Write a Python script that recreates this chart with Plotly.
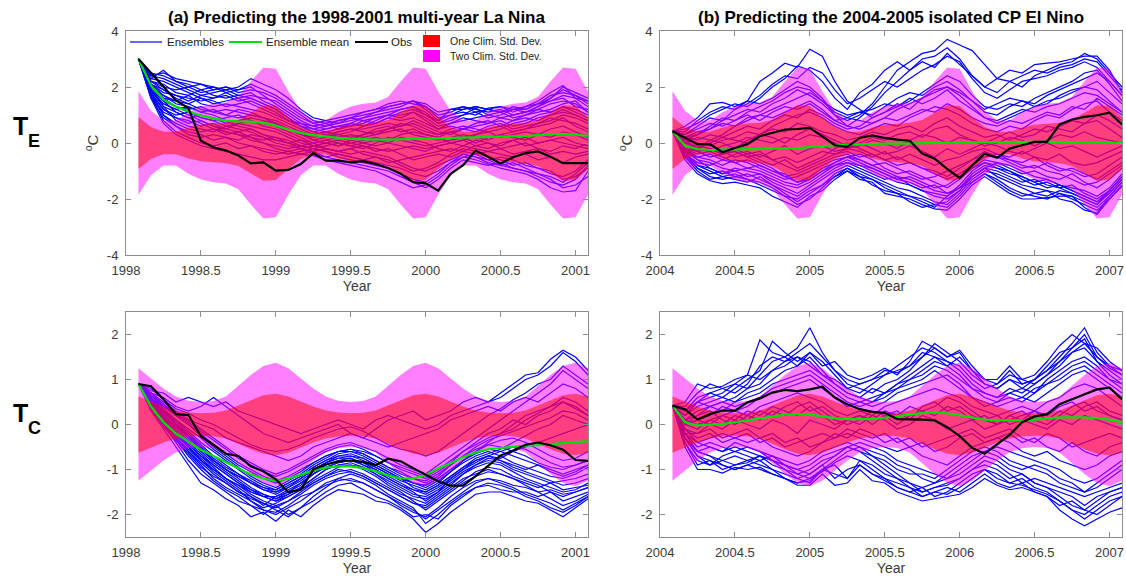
import plotly.graph_objects as go

W, H = 1126, 580
N = 37  # monthly steps, starting in February of the first year
FONT = "Liberation Sans, Arial, sans-serif"
AX_GRAY = "#8c8c8c"
TXT_GRAY = "#3a3a3a"

# climatological two-standard-deviation envelopes by calendar month (Jan..Dec)
SD2_TE = [2.65, 1.85, 1.15, 0.80, 0.80, 1.10, 1.30, 1.40, 1.45, 1.65, 2.20, 2.70]
SD2_TC = [1.37, 1.25, 1.02, 0.80, 0.62, 0.53, 0.50, 0.52, 0.62, 0.85, 1.10, 1.30]

# ---------------- (a) 1998-2001, T_E ----------------
OBS_TE_A = [3.0, 2.5, 2.0, 1.52, 1.25, 0.08, -0.15, -0.27, -0.45, -0.73,
            -0.69, -0.99, -0.96, -0.75, -0.36, -0.63, -0.63, -0.69, -0.65, -0.75,
            -0.89, -1.1, -1.4, -1.44, -1.7, -1.1, -0.79, -0.27, -0.49, -0.73,
            -0.51, -0.36, -0.3, -0.49, -0.72, -0.72, -0.72]
MEAN_TE_A = [3.0, 2.05, 1.55, 1.3, 1.12, 0.98, 0.88, 0.8, 0.77, 0.76,
             0.72, 0.62, 0.48, 0.36, 0.28, 0.22, 0.18, 0.15, 0.13, 0.12,
             0.12, 0.13, 0.15, 0.17, 0.18, 0.18, 0.18, 0.19, 0.2, 0.21,
             0.23, 0.25, 0.28, 0.31, 0.33, 0.3, 0.25]
ENS_TE_A = [
    [3.0, 2.4, 2.5, 2.3, 2.2, 2.1, 2.0, 1.9, 2.0, 2.3, 2.1, 1.9, 1.6, 1.2, 0.9, 0.8, 0.9, 1.0, 1.1, 1.2, 1.4, 1.5, 1.4, 1.3, 1.0, 1.1, 1.3, 1.2, 1.1, 1.2, 1.0, 1.1, 1.3, 1.6, 2.0, 1.8, 1.6],
    [3.0, 2.3, 2.6, 2.2, 2.0, 2.1, 1.9, 2.0, 1.8, 1.9, 1.8, 1.6, 1.3, 1.0, 0.7, 0.6, 0.7, 0.9, 1.0, 1.1, 1.2, 1.3, 1.5, 1.2, 0.8, 1.2, 1.2, 1.3, 1.2, 1.1, 1.2, 1.3, 1.4, 1.7, 1.8, 1.7, 1.4],
    [3.0, 2.2, 2.0, 1.9, 2.0, 1.8, 1.9, 2.0, 1.9, 2.0, 1.7, 1.4, 1.1, 0.8, 0.6, 0.5, 0.6, 0.7, 0.9, 1.0, 1.1, 1.2, 1.3, 1.1, 0.7, 0.8, 1.0, 1.25, 1.0, 0.9, 1.0, 1.1, 1.3, 1.5, 1.6, 1.3, 1.2],
    [3.0, 2.1, 1.8, 1.7, 1.6, 1.5, 1.6, 1.7, 1.5, 1.6, 1.4, 1.2, 0.9, 0.6, 0.4, 0.5, 0.6, 0.6, 0.8, 0.9, 1.0, 1.0, 1.1, 0.9, 0.6, 0.7, 0.8, 0.9, 1.0, 1.1, 0.9, 1.0, 1.1, 1.2, 1.4, 1.5, 1.1],
    [3.0, 2.0, 1.6, 1.5, 1.7, 1.4, 1.3, 1.4, 1.3, 1.2, 1.1, 0.9, 0.7, 0.5, 0.3, 0.4, 0.3, 0.4, 0.6, 0.7, 0.9, 0.8, 0.9, 0.7, 0.5, 0.6, 0.5, 0.7, 0.8, 0.6, 0.8, 0.9, 0.8, 1.0, 1.1, 1.0, 0.8],
    [3.0, 1.9, 1.5, 1.3, 1.2, 1.3, 1.1, 1.0, 1.2, 1.1, 0.9, 0.7, 0.5, 0.3, 0.2, 0.3, 0.2, 0.1, 0.3, 0.4, 0.5, 0.6, 0.8, 0.6, 0.4, 0.3, 0.5, 0.4, 0.6, 0.7, 0.5, 0.6, 0.7, 0.9, 0.8, 0.7, 0.5],
    [3.0, 1.8, 1.2, 1.0, 1.1, 0.9, 0.8, 0.9, 1.0, 0.8, 0.7, 0.6, 0.4, 0.2, 0.0, 0.1, 0.2, 0.3, 0.2, 0.3, 0.4, 0.5, 0.3, 0.2, 0.1, 0.2, 0.3, 0.2, 0.1, 0.3, 0.4, 0.5, 0.6, 0.7, 0.9, 0.6, 0.4],
    [3.0, 1.7, 1.1, 0.9, 0.7, 0.8, 0.6, 0.5, 0.7, 0.6, 0.5, 0.4, 0.2, 0.0, -0.1, 0.0, -0.1, 0.0, 0.1, 0.2, 0.1, 0.3, 0.4, 0.3, 0.2, 0.0, 0.1, 0.3, 0.4, 0.2, 0.3, 0.4, 0.3, 0.5, 0.6, 0.4, 0.2],
    [3.0, 1.8, 1.0, 0.7, 0.5, 0.4, 0.5, 0.3, 0.4, 0.5, 0.3, 0.2, 0.1, -0.1, -0.2, -0.1, 0.0, -0.1, -0.2, 0.0, 0.2, 0.1, 0.0, -0.1, 0.0, 0.1, 0.2, 0.0, 0.2, 0.3, 0.2, 0.1, 0.3, 0.2, 0.4, 0.3, 0.1],
    [3.0, 1.6, 0.9, 0.6, 0.3, 0.2, 0.3, 0.2, 0.1, 0.3, 0.2, 0.0, -0.1, -0.2, -0.3, -0.2, -0.3, -0.2, -0.1, -0.2, -0.3, -0.2, -0.1, -0.2, -0.1, 0.0, -0.1, 0.1, 0.0, -0.1, 0.1, 0.2, 0.0, 0.1, 0.2, 0.0, -0.1],
    [3.0, 1.7, 0.8, 0.4, 0.2, 0.0, -0.1, 0.0, -0.2, -0.1, -0.3, -0.4, -0.3, -0.2, -0.4, -0.5, -0.4, -0.5, -0.6, -0.5, -0.7, -0.6, -0.5, -0.4, -0.3, -0.2, -0.3, -0.4, -0.3, -0.2, -0.4, -0.3, -0.2, -0.4, -0.3, -0.4, -0.3],
    [3.0, 1.6, 0.7, 0.3, 0.1, -0.1, -0.2, -0.3, -0.4, -0.5, -0.6, -0.6, -0.5, -0.4, -0.45, -0.6, -0.7, -0.8, -0.9, -1.0, -1.2, -1.4, -1.6, -1.5, -1.2, -0.8, -0.5, -0.6, -0.75, -0.9, -1.0, -1.1, -1.3, -1.6, -1.75, -1.7, -1.0],
    [3.0, 1.9, 1.4, 1.2, 1.0, 0.8, 0.6, 0.4, 0.3, 0.1, 0.0, -0.2, -0.3, -0.4, -0.3, -0.5, -0.6, -0.7, -0.8, -0.9, -1.0, -1.2, -1.4, -1.6, -1.3, -0.9, -0.6, -0.7, -0.8, -0.7, -0.9, -1.0, -1.2, -1.4, -1.5, -1.3, -0.8],
    [3.0, 2.0, 1.7, 1.4, 1.3, 1.1, 1.0, 0.8, 0.6, 0.5, 0.3, 0.1, 0.0, -0.1, -0.2, -0.3, -0.4, -0.5, -0.6, -0.7, -0.8, -0.9, -1.1, -1.2, -1.0, -0.7, -0.5, -0.4, -0.6, -0.8, -0.7, -0.9, -1.1, -1.2, -1.4, -1.1, -0.7],
    [3.0, 2.2, 2.1, 1.8, 1.7, 1.9, 1.7, 1.6, 1.7, 1.8, 1.5, 1.3, 1.0, 0.7, 0.5, 0.6, 0.8, 0.9, 0.8, 0.7, 0.9, 1.1, 1.2, 1.0, 0.8, 1.0, 1.1, 1.0, 1.25, 1.3, 1.1, 1.3, 1.5, 1.8, 2.05, 1.6, 1.3],
    [3.0, 2.1, 1.9, 1.6, 1.4, 1.6, 1.5, 1.3, 1.4, 1.5, 1.3, 1.1, 0.8, 0.6, 0.4, 0.3, 0.4, 0.5, 0.5, 0.6, 0.7, 0.6, 0.7, 0.5, 0.3, 0.5, 0.6, 0.5, 0.4, 0.5, 0.7, 0.8, 1.0, 1.1, 1.3, 1.2, 1.0],
    [3.0, 2.0, 1.5, 1.1, 0.9, 1.0, 0.9, 0.7, 0.8, 0.9, 0.8, 0.7, 0.5, 0.4, 0.1, 0.0, -0.1, 0.1, 0.0, -0.1, 0.0, 0.2, 0.1, 0.0, -0.2, -0.3, -0.1, -0.2, -0.3, -0.4, -0.5, -0.4, -0.6, -0.5, -0.7, -0.5, -0.4],
    [3.0, 1.9, 1.3, 0.8, 0.6, 0.5, 0.4, 0.6, 0.5, 0.4, 0.2, 0.1, 0.0, 0.1, -0.1, -0.2, -0.3, -0.4, -0.3, -0.4, -0.5, -0.7, -0.9, -1.0, -0.8, -0.6, -0.4, -0.5, -0.6, -0.5, -0.6, -0.8, -0.9, -1.1, -1.2, -1.0, -0.6],
    [3.0, 2.4, 2.3, 2.1, 1.9, 1.7, 1.8, 1.9, 1.7, 1.6, 1.4, 1.2, 0.9, 0.6, 0.5, 0.4, 0.5, 0.7, 0.6, 0.8, 1.0, 1.2, 1.3, 1.0, 0.7, 0.9, 1.0, 1.1, 0.9, 1.0, 1.2, 1.1, 1.2, 1.4, 1.5, 1.4, 1.1],
    [3.0, 1.8, 1.2, 0.9, 0.8, 0.6, 0.7, 0.5, 0.4, 0.2, 0.1, 0.2, 0.0, -0.2, -0.1, 0.0, 0.1, 0.0, -0.1, -0.3, -0.2, -0.4, -0.6, -0.5, -0.4, -0.5, -0.3, -0.1, 0.0, -0.2, -0.1, 0.0, -0.2, -0.3, -0.1, -0.2, 0.0],
    [3.0, 2.1, 1.7, 1.5, 1.4, 1.2, 1.1, 1.2, 1.1, 1.0, 0.9, 0.8, 0.6, 0.4, 0.3, 0.2, 0.4, 0.5, 0.4, 0.3, 0.5, 0.7, 0.6, 0.4, 0.3, 0.4, 0.2, 0.3, 0.5, 0.6, 0.4, 0.5, 0.7, 0.8, 1.0, 0.9, 0.7],
    [3.0, 2.2, 1.9, 1.7, 1.5, 1.7, 1.6, 1.8, 1.6, 1.4, 1.2, 1.0, 0.8, 0.7, 0.6, 0.7, 0.5, 0.6, 0.7, 0.9, 1.0, 0.9, 1.1, 0.8, 0.5, 0.7, 0.9, 0.8, 0.7, 0.9, 0.8, 1.0, 1.2, 1.1, 1.3, 1.1, 0.9],
    [3.0, 2.3, 2.2, 2.0, 1.8, 1.6, 1.4, 1.5, 1.6, 1.7, 1.6, 1.5, 1.2, 0.9, 0.7, 0.8, 0.7, 0.8, 0.9, 1.1, 1.3, 1.4, 1.5, 1.3, 0.9, 1.0, 1.2, 1.3, 1.2, 1.3, 1.2, 1.2, 1.4, 1.5, 1.7, 1.6, 1.5],
    [3.0, 1.9, 1.3, 1.1, 0.9, 0.7, 0.5, 0.4, 0.3, 0.2, 0.0, -0.1, -0.2, -0.1, 0.0, -0.2, -0.3, -0.2, -0.4, -0.5, -0.6, -0.8, -1.0, -0.9, -0.7, -0.4, -0.2, -0.3, -0.5, -0.6, -0.8, -0.7, -0.9, -1.0, -1.3, -1.2, -0.9],
    [3.0, 2.0, 1.6, 1.3, 1.1, 0.9, 0.8, 0.6, 0.7, 0.8, 0.6, 0.5, 0.3, 0.1, 0.0, 0.1, 0.0, -0.1, 0.0, 0.1, 0.0, -0.1, -0.2, -0.3, -0.1, 0.0, 0.1, -0.1, -0.2, 0.0, 0.1, -0.1, 0.0, 0.1, 0.0, -0.1, -0.2],
    [3.0, 1.8, 1.4, 1.2, 1.3, 1.1, 1.2, 1.0, 0.9, 1.0, 0.9, 0.7, 0.5, 0.3, 0.1, 0.2, 0.3, 0.2, 0.3, 0.5, 0.6, 0.4, 0.5, 0.3, 0.2, 0.4, 0.5, 0.6, 0.7, 0.8, 0.6, 0.7, 0.9, 1.0, 1.2, 1.0, 0.8],
    [3.0, 2.5, 2.4, 2.2, 2.1, 1.9, 2.0, 1.8, 1.9, 2.1, 1.9, 1.7, 1.4, 1.1, 0.8, 0.7, 0.8, 0.9, 1.1, 1.2, 1.3, 1.4, 1.5, 1.4, 1.1, 1.2, 1.3, 1.1, 1.2, 1.1, 1.3, 1.2, 1.4, 1.6, 1.9, 1.7, 1.5],
    [3.0, 1.7, 1.0, 0.6, 0.4, 0.3, 0.1, 0.2, 0.0, -0.1, -0.2, -0.3, -0.4, -0.3, -0.2, -0.3, -0.5, -0.6, -0.7, -0.8, -0.9, -1.1, -1.3, -1.4, -1.1, -0.7, -0.4, -0.5, -0.7, -0.8, -0.9, -1.0, -1.1, -1.3, -1.6, -1.5, -1.2],
]

# ---------------- (a) 1998-2001, T_C ----------------
OBS_TC_A = [0.9, 0.85, 0.56, 0.23, 0.21, -0.26, -0.45, -0.65, -0.7, -0.93,
            -1.04, -1.22, -1.5, -1.45, -1.0, -0.89, -0.82, -0.8, -0.83, -0.9,
            -0.76, -0.82, -0.97, -1.11, -1.26, -1.36, -1.36, -1.15, -0.93, -0.69,
            -0.58, -0.45, -0.4, -0.46, -0.56, -0.79, -0.81]
MEAN_TC_A = [0.9, 0.4, 0.05, -0.2, -0.38, -0.56, -0.7, -0.84, -0.98, -1.11,
             -1.2, -1.26, -1.2, -1.12, -1.02, -0.96, -0.93, -0.93, -0.97, -1.04,
             -1.13, -1.2, -1.2, -1.12, -0.98, -0.86, -0.72, -0.62, -0.55, -0.52,
             -0.49, -0.47, -0.46, -0.44, -0.42, -0.4, -0.37]
ENS_TC_A = [
    [0.9, 0.3, -0.1, -0.5, -0.9, -1.3, -1.45, -1.65, -1.8, -2.05, -1.95, -2.15, -1.9, -2.05, -1.8, -1.6, -1.45, -1.5, -1.55, -1.7, -1.75, -1.9, -2.1, -2.4, -2.2, -1.95, -1.75, -1.55, -1.5, -1.5, -1.6, -1.7, -1.75, -1.9, -2.05, -1.85, -1.65],
    [0.9, 0.4, 0.0, -0.4, -0.8, -1.1, -1.3, -1.5, -1.7, -1.8, -2.0, -1.8, -2.0, -1.85, -1.7, -1.5, -1.35, -1.3, -1.45, -1.6, -1.7, -1.85, -2.05, -2.0, -2.1, -1.8, -1.6, -1.4, -1.35, -1.45, -1.5, -1.5, -1.6, -1.5, -1.7, -1.6, -1.5],
    [0.9, 0.5, 0.1, -0.3, -0.6, -0.9, -1.2, -1.4, -1.55, -1.7, -1.9, -1.95, -1.8, -1.6, -1.5, -1.3, -1.2, -1.25, -1.3, -1.45, -1.6, -1.75, -1.9, -2.1, -1.9, -1.7, -1.5, -1.3, -1.2, -1.25, -1.35, -1.4, -1.5, -1.45, -1.55, -1.5, -1.4],
    [0.9, 0.45, 0.05, -0.25, -0.5, -0.75, -1.0, -1.2, -1.35, -1.55, -1.7, -1.8, -1.7, -1.5, -1.3, -1.15, -1.0, -1.05, -1.15, -1.3, -1.45, -1.6, -1.75, -1.8, -1.6, -1.4, -1.2, -1.1, -1.0, -1.1, -1.2, -1.3, -1.4, -1.3, -1.45, -1.4, -1.35],
    [0.9, 0.5, 0.2, -0.1, -0.35, -0.6, -0.85, -1.05, -1.25, -1.45, -1.6, -1.7, -1.55, -1.4, -1.2, -1.0, -0.9, -0.85, -0.95, -1.1, -1.25, -1.4, -1.55, -1.6, -1.45, -1.25, -1.05, -0.9, -0.8, -0.85, -1.0, -1.1, -1.2, -1.3, -1.25, -1.2, -1.1],
    [0.9, 0.55, 0.25, 0.0, -0.2, -0.45, -0.7, -0.9, -1.1, -1.3, -1.45, -1.55, -1.4, -1.25, -1.05, -0.85, -0.7, -0.7, -0.8, -0.95, -1.1, -1.25, -1.35, -1.45, -1.3, -1.05, -0.85, -0.7, -0.6, -0.7, -0.85, -0.95, -1.05, -1.15, -1.2, -1.1, -0.95],
    [0.9, 0.6, 0.3, 0.1, -0.1, -0.3, -0.55, -0.75, -0.95, -1.15, -1.3, -1.4, -1.25, -1.1, -0.9, -0.75, -0.6, -0.55, -0.65, -0.8, -0.95, -1.05, -1.2, -1.3, -1.15, -0.9, -0.7, -0.55, -0.45, -0.5, -0.6, -0.7, -0.85, -0.95, -1.0, -0.9, -0.8],
    [0.9, 0.35, -0.05, -0.35, -0.65, -0.95, -1.15, -1.3, -1.5, -1.6, -1.75, -1.9, -2.05, -1.85, -1.6, -1.4, -1.2, -1.1, -1.2, -1.35, -1.55, -1.7, -1.85, -2.2, -2.0, -1.75, -1.55, -1.4, -1.3, -1.35, -1.45, -1.6, -1.7, -1.85, -1.95, -1.8, -1.6],
    [0.9, 0.5, 0.15, -0.15, -0.45, -0.7, -0.95, -1.2, -1.4, -1.6, -1.8, -1.6, -1.5, -1.35, -1.1, -0.9, -0.8, -0.75, -0.9, -1.0, -1.2, -1.35, -1.5, -1.7, -1.5, -1.2, -1.0, -0.8, -0.7, -0.75, -0.6, -0.5, -0.4, -0.3, -0.2, -0.1, 0.0],
    [0.9, 0.6, 0.35, 0.1, -0.15, -0.4, -0.6, -0.8, -1.0, -1.2, -1.35, -1.45, -1.3, -1.15, -0.95, -0.8, -0.65, -0.6, -0.7, -0.85, -1.0, -1.15, -1.3, -1.35, -1.2, -1.0, -0.8, -0.6, -0.4, -0.2, 0.0, 0.2, 0.3, 0.4, 0.6, 0.5, 0.3],
    [0.9, 0.7, 0.5, 0.3, 0.1, -0.1, -0.3, -0.5, -0.7, -0.85, -1.0, -1.1, -1.0, -0.85, -0.7, -0.55, -0.45, -0.4, -0.5, -0.6, -0.75, -0.9, -1.0, -1.1, -0.9, -0.7, -0.5, -0.3, -0.1, 0.1, 0.3, 0.5, 0.7, 0.9, 1.2, 1.0, 0.8],
    [0.9, 0.75, 0.7, 0.5, 0.6, 0.5, 0.4, 0.5, 0.3, 0.2, 0.1, 0.0, -0.1, -0.2, -0.1, 0.0, 0.1, 0.0, -0.1, 0.1, 0.2, 0.1, 0.0, -0.1, 0.0, 0.2, 0.3, 0.4, 0.5, 0.6, 0.8, 1.0, 1.1, 1.3, 1.6, 1.4, 1.1],
    [0.9, 0.7, 0.6, 0.4, 0.3, 0.4, 0.6, 0.4, 0.2, 0.0, -0.2, -0.3, -0.4, -0.3, -0.2, -0.1, 0.0, -0.2, -0.3, -0.1, 0.1, 0.2, 0.3, 0.1, 0.2, 0.3, 0.5, 0.6, 0.5, 0.7, 0.9, 1.1, 1.15, 1.45, 1.65, 1.5, 1.2],
    [0.9, 0.65, 0.45, 0.2, 0.1, 0.0, -0.1, -0.3, -0.4, -0.5, -0.6, -0.7, -0.8, -0.7, -0.5, -0.4, -0.3, -0.2, -0.3, -0.4, -0.5, -0.4, -0.3, -0.2, -0.1, 0.1, 0.2, 0.3, 0.4, 0.3, 0.5, 0.6, 0.5, 0.7, 0.9, 0.8, 0.6],
    [0.9, 0.55, 0.3, 0.05, -0.2, -0.5, -0.8, -1.0, -1.2, -1.4, -1.55, -1.65, -1.5, -1.3, -1.1, -0.95, -0.85, -0.8, -0.85, -0.95, -1.1, -1.2, -1.4, -1.5, -1.35, -1.15, -0.95, -0.75, -0.65, -0.55, -0.4, -0.25, -0.1, 0.0, 0.2, 0.1, 0.0],
    [0.9, 0.4, 0.0, -0.3, -0.55, -0.8, -1.05, -1.25, -1.45, -1.7, -1.85, -1.75, -1.6, -1.45, -1.25, -1.1, -0.95, -0.9, -1.0, -1.15, -1.35, -1.5, -1.7, -1.9, -1.7, -1.5, -1.3, -1.15, -1.05, -1.1, -1.2, -1.35, -1.5, -1.65, -1.8, -1.7, -1.55],
    [0.9, 0.6, 0.4, 0.2, 0.0, -0.2, -0.45, -0.65, -0.85, -1.0, -1.15, -1.25, -1.15, -1.0, -0.85, -0.7, -0.6, -0.55, -0.6, -0.7, -0.85, -1.0, -1.1, -1.2, -1.05, -0.85, -0.6, -0.4, -0.2, -0.1, 0.1, 0.0, 0.2, 0.3, 0.5, 0.4, 0.2],
    [0.9, 0.45, 0.1, -0.2, -0.45, -0.7, -0.9, -1.1, -1.3, -1.5, -1.6, -1.7, -1.6, -1.45, -1.3, -1.15, -1.05, -1.0, -1.1, -1.25, -1.4, -1.55, -1.65, -1.75, -1.55, -1.35, -1.1, -0.9, -0.75, -0.8, -0.9, -1.0, -0.9, -1.0, -1.1, -1.0, -0.9],
    [0.9, 0.5, 0.2, -0.05, -0.3, -0.55, -0.8, -1.0, -1.15, -1.3, -1.45, -1.5, -1.35, -1.2, -1.0, -0.85, -0.75, -0.7, -0.75, -0.9, -1.05, -1.2, -1.3, -1.4, -1.25, -1.05, -0.8, -0.6, -0.45, -0.35, -0.3, -0.4, -0.55, -0.7, -0.8, -0.75, -0.6],
    [0.9, 0.8, 0.55, 0.35, 0.25, 0.1, 0.0, -0.15, -0.3, -0.45, -0.55, -0.6, -0.55, -0.45, -0.3, -0.2, -0.1, -0.05, -0.15, -0.3, -0.45, -0.55, -0.6, -0.7, -0.6, -0.4, -0.2, 0.0, 0.2, 0.35, 0.55, 0.7, 0.9, 1.0, 1.3, 1.1, 0.9],
    [0.9, 0.5, 0.1, -0.2, -0.5, -0.8, -1.0, -1.2, -1.35, -1.5, -1.6, -1.6, -1.45, -1.3, -1.1, -0.95, -0.85, -0.8, -0.9, -1.05, -1.2, -1.35, -1.45, -1.5, -1.35, -1.15, -0.95, -0.8, -0.7, -0.8, -0.95, -1.05, -1.15, -1.25, -1.35, -1.3, -1.2],
    [0.9, 0.45, 0.05, -0.3, -0.6, -0.85, -1.1, -1.3, -1.5, -1.65, -1.75, -1.85, -1.7, -1.55, -1.35, -1.2, -1.1, -1.05, -1.15, -1.3, -1.45, -1.6, -1.75, -1.85, -1.65, -1.45, -1.25, -1.05, -0.95, -1.0, -1.15, -1.25, -1.35, -1.5, -1.6, -1.5, -1.4],
    [0.9, 0.55, 0.2, -0.05, -0.25, -0.5, -0.75, -0.95, -1.1, -1.25, -1.4, -1.45, -1.3, -1.15, -0.95, -0.8, -0.7, -0.65, -0.75, -0.9, -1.05, -1.2, -1.3, -1.35, -1.2, -1.0, -0.8, -0.65, -0.55, -0.6, -0.7, -0.8, -0.9, -1.05, -1.15, -1.05, -0.9],
    [0.9, 0.4, 0.0, -0.35, -0.7, -1.0, -1.25, -1.45, -1.6, -1.8, -1.9, -2.0, -1.85, -1.7, -1.5, -1.35, -1.25, -1.2, -1.3, -1.45, -1.6, -1.8, -1.95, -2.05, -1.85, -1.6, -1.4, -1.25, -1.2, -1.3, -1.4, -1.55, -1.65, -1.75, -1.9, -1.75, -1.6],
    [0.9, 0.6, 0.3, 0.0, -0.25, -0.55, -0.8, -1.0, -1.15, -1.3, -1.4, -1.5, -1.4, -1.2, -1.0, -0.85, -0.75, -0.75, -0.85, -1.0, -1.15, -1.3, -1.45, -1.55, -1.4, -1.2, -1.0, -0.85, -0.7, -0.6, -0.5, -0.55, -0.7, -0.85, -0.95, -0.9, -0.8],
    [0.9, 0.7, 0.45, 0.25, 0.05, -0.15, -0.35, -0.55, -0.75, -0.9, -1.05, -1.15, -1.05, -0.9, -0.75, -0.6, -0.5, -0.45, -0.55, -0.7, -0.85, -0.95, -1.05, -1.15, -1.0, -0.8, -0.6, -0.45, -0.3, -0.2, -0.1, 0.1, 0.25, 0.4, 0.5, 0.35, 0.2],
    [0.9, 0.5, 0.15, -0.15, -0.4, -0.65, -0.9, -1.1, -1.3, -1.45, -1.55, -1.65, -1.55, -1.4, -1.2, -1.0, -0.9, -0.9, -0.95, -1.1, -1.3, -1.45, -1.6, -1.65, -1.5, -1.3, -1.1, -0.95, -0.85, -0.9, -1.05, -1.2, -1.3, -1.4, -1.5, -1.45, -1.3],
    [0.9, 0.65, 0.4, 0.2, 0.0, -0.25, -0.5, -0.7, -0.9, -1.05, -1.2, -1.3, -1.2, -1.05, -0.85, -0.7, -0.6, -0.6, -0.65, -0.8, -0.95, -1.1, -1.2, -1.25, -1.1, -0.9, -0.7, -0.5, -0.35, -0.25, -0.15, -0.05, 0.05, 0.15, 0.3, 0.25, 0.1],
]

# ---------------- (b) 2004-2007, T_E ----------------
OBS_TE_B = [0.42, 0.18, -0.04, -0.04, -0.33, -0.18, -0.04, 0.24, 0.36, 0.48,
            0.5, 0.54, 0.24, -0.08, -0.14, 0.18, 0.27, 0.18, 0.12, 0.08,
            -0.38, -0.56, -0.92, -1.25, -0.8, -0.38, -0.53, -0.2, -0.08, 0.04,
            0.04, 0.66, 0.84, 0.93, 0.99, 1.08, 0.66]
MEAN_TE_B = [0.42, -0.1, -0.22, -0.25, -0.24, -0.23, -0.22, -0.21, -0.2, -0.2,
             -0.18, -0.15, -0.11, -0.08, -0.06, -0.04, -0.03, -0.02, -0.02, -0.01,
             0.0, 0.0, 0.0, 0.01, 0.02, 0.02, 0.03, 0.03, 0.03, 0.04,
             0.04, 0.04, 0.03, 0.02, 0.01, 0.0, 0.0]
ENS_TE_B = [
    [0.42, 0.6, 0.9, 1.4, 1.45, 1.3, 1.5, 2.2, 2.5, 2.85, 2.7, 3.35, 3.1, 2.2, 1.5, 1.2, 0.9, 1.1, 1.4, 1.2, 1.6, 1.9, 2.0, 1.8, 1.5, 1.2, 1.4, 1.6, 1.5, 1.3, 1.4, 1.7, 1.9, 2.0, 2.2, 1.8, 1.4],
    [0.42, 0.3, 0.6, 0.9, 0.8, 1.0, 1.2, 1.1, 1.4, 1.6, 1.9, 1.7, 1.4, 1.0, 0.8, 1.0, 1.4, 2.0, 2.6, 2.9, 3.2, 3.3, 3.7, 3.5, 3.3, 2.8, 2.3, 2.2, 2.0, 2.4, 2.6, 2.8, 2.9, 3.2, 3.0, 2.5, 2.0],
    [0.42, 0.5, 0.7, 1.0, 1.2, 1.4, 1.3, 1.6, 2.0, 2.3, 2.75, 2.6, 2.2, 1.6, 1.2, 1.8, 2.1, 2.6, 2.9, 2.6, 3.0, 3.1, 3.4, 3.0, 2.4, 2.0, 2.3, 2.6, 2.5, 2.8, 2.85, 2.9, 3.0, 3.1, 3.1, 2.6, 1.8],
    [0.42, 0.2, 0.4, 0.5, 0.7, 0.6, 0.9, 1.0, 1.2, 1.4, 1.6, 1.8, 1.5, 1.1, 0.9, 0.8, 0.7, 0.9, 1.2, 1.4, 1.6, 1.8, 2.0, 1.7, 1.3, 0.9, 0.7, 0.9, 1.1, 1.3, 1.5, 1.6, 1.8, 2.0, 1.9, 1.5, 1.1],
    [0.42, -0.1, -0.3, -0.2, -0.4, -0.3, -0.5, -0.4, -0.6, -0.8, -1.0, -0.8, -0.6, -0.4, -0.3, -0.5, -0.4, -0.6, -0.8, -0.7, -0.9, -1.1, -1.3, -1.1, -0.8, -0.5, -0.4, -0.6, -0.7, -0.5, -0.8, -1.0, -0.9, -1.1, -1.3, -1.0, -0.7],
    [0.42, 0.0, -0.1, -0.2, -0.4, -0.3, -0.5, -0.7, -0.9, -1.2, -1.4, -1.3, -1.0, -0.7, -0.5, -0.6, -0.8, -1.0, -1.2, -1.3, -1.5, -1.7, -1.8, -1.6, -1.2, -0.9, -0.7, -0.8, -1.0, -1.2, -1.3, -1.5, -1.7, -1.9, -2.1, -1.7, -1.2],
    [0.42, 0.1, 0.0, -0.1, 0.1, 0.2, 0.4, 0.3, 0.6, 0.8, 1.0, 1.1, 0.9, 0.6, 0.4, 0.3, 0.5, 0.7, 0.6, 0.9, 1.1, 1.3, 1.2, 1.0, 0.7, 0.5, 0.4, 0.6, 0.5, 0.8, 1.0, 0.9, 1.2, 1.4, 1.5, 1.1, 0.8],
    [0.42, -0.1, -0.2, 0.0, 0.2, 0.1, 0.0, 0.3, 0.5, 0.4, 0.7, 0.6, 0.4, 0.3, 0.1, 0.2, 0.4, 0.3, 0.5, 0.6, 0.4, 0.7, 0.9, 0.6, 0.4, 0.2, 0.3, 0.1, 0.3, 0.5, 0.4, 0.6, 0.8, 0.7, 1.0, 0.8, 0.5],
    [0.42, -0.2, -0.4, -0.3, -0.1, 0.0, 0.2, 0.1, 0.0, 0.2, 0.1, 0.3, 0.2, 0.0, -0.2, -0.1, 0.1, 0.0, -0.2, 0.1, 0.3, 0.2, 0.0, 0.2, 0.1, -0.1, 0.0, 0.2, 0.1, -0.1, 0.1, 0.3, 0.2, 0.4, 0.2, 0.1, 0.0],
    [0.42, -0.3, -0.5, -0.4, -0.6, -0.4, -0.3, -0.5, -0.3, -0.1, -0.4, -0.2, -0.1, -0.3, -0.2, 0.0, -0.2, -0.4, -0.3, -0.1, -0.3, -0.5, -0.2, -0.4, -0.2, 0.0, -0.1, -0.3, -0.4, -0.2, 0.0, -0.2, -0.1, -0.3, -0.5, -0.3, -0.1],
    [0.42, -0.4, -0.7, -0.8, -0.6, -0.7, -0.9, -0.8, -1.0, -1.2, -1.1, -0.9, -0.7, -0.5, -0.4, -0.6, -0.8, -0.7, -0.9, -1.1, -1.3, -1.2, -1.0, -0.8, -0.6, -0.4, -0.5, -0.7, -0.9, -0.8, -1.0, -1.1, -1.3, -1.5, -1.4, -1.1, -0.8],
    [0.42, -0.5, -0.9, -1.1, -1.0, -1.2, -1.1, -1.3, -1.5, -1.7, -1.9, -1.6, -1.3, -1.0, -0.8, -1.0, -1.2, -1.4, -1.6, -1.7, -1.9, -2.1, -2.2, -1.8, -1.3, -1.0, -1.1, -1.3, -1.5, -1.6, -1.7, -1.8, -1.9, -2.1, -2.3, -1.9, -1.4],
    [0.42, -0.6, -1.1, -1.35, -1.45, -1.4, -1.5, -1.6, -1.9, -2.1, -2.3, -1.9, -1.7, -1.3, -1.0, -1.3, -1.4, -1.8, -1.9, -2.0, -2.2, -2.35, -2.4, -2.0, -1.5, -1.2, -1.5, -1.8, -2.0, -2.0, -1.95, -1.9, -1.9, -2.3, -2.55, -2.0, -1.55],
    [0.42, -0.4, -0.9, -1.2, -1.3, -1.2, -1.3, -1.5, -1.7, -1.9, -2.0, -1.7, -1.5, -1.2, -0.9, -1.1, -1.3, -1.5, -1.7, -1.9, -2.0, -2.2, -2.1, -1.7, -1.2, -0.9, -1.2, -1.4, -1.6, -1.8, -1.9, -1.7, -1.8, -2.0, -2.2, -1.7, -1.2],
    [0.42, -0.3, -0.8, -0.9, -1.1, -0.9, -1.0, -1.1, -1.3, -1.5, -1.6, -1.4, -1.1, -0.8, -0.6, -0.8, -1.0, -1.2, -1.4, -1.5, -1.7, -1.8, -1.9, -1.5, -1.0, -0.7, -0.9, -1.1, -1.2, -1.4, -1.3, -1.5, -1.6, -1.7, -1.9, -1.6, -1.1],
    [0.42, -0.2, -0.5, -0.6, -0.8, -0.6, -0.7, -0.9, -1.1, -1.3, -1.2, -1.0, -0.8, -0.6, -0.5, -0.4, -0.6, -0.9, -1.1, -1.0, -1.2, -1.4, -1.6, -1.3, -0.9, -0.6, -0.7, -0.9, -1.1, -1.0, -1.2, -1.3, -1.1, -1.4, -1.6, -1.3, -0.9],
    [0.42, 0.2, 0.3, 0.5, 0.8, 1.2, 1.5, 1.4, 1.6, 1.9, 2.2, 2.0, 1.6, 1.0, 0.6, 0.9, 1.3, 1.8, 2.2, 2.6, 2.9, 2.7, 3.2, 2.8, 2.4, 2.0, 1.8, 2.2, 2.4, 2.6, 2.5, 2.7, 2.8, 3.0, 2.9, 2.4, 1.9],
    [0.42, 0.0, 0.2, 0.1, 0.3, 0.6, 0.8, 1.0, 0.9, 1.1, 1.3, 1.5, 1.2, 0.8, 0.9, 1.1, 1.0, 1.3, 1.6, 1.8, 1.7, 2.0, 2.2, 1.9, 1.5, 1.1, 1.0, 1.3, 1.5, 1.4, 1.7, 1.9, 2.1, 2.3, 2.5, 2.2, 1.7],
    [0.42, -0.1, -0.3, -0.5, -0.4, -0.2, -0.4, -0.6, -0.8, -0.6, -0.9, -0.7, -0.5, -0.2, 0.0, -0.2, -0.4, -0.6, -0.5, -0.7, -0.9, -1.0, -1.2, -0.9, -0.6, -0.3, -0.5, -0.6, -0.8, -0.9, -0.7, -0.9, -1.0, -1.2, -1.1, -0.8, -0.5],
    [0.42, 0.1, -0.2, -0.3, -0.5, -0.7, -0.6, -0.8, -1.0, -1.1, -1.4, -1.2, -0.9, -0.7, -0.5, -0.7, -0.9, -1.1, -1.3, -1.4, -1.6, -1.5, -1.8, -1.6, -1.1, -0.8, -0.9, -1.0, -1.2, -1.4, -1.6, -1.5, -1.7, -1.9, -2.1, -1.8, -1.3],
    [0.42, 0.3, 0.5, 0.7, 0.6, 0.8, 1.0, 0.8, 1.1, 1.3, 1.2, 1.4, 1.1, 0.8, 0.6, 0.5, 0.7, 0.9, 0.8, 1.0, 1.2, 1.1, 1.4, 1.2, 0.9, 0.7, 0.6, 0.8, 0.7, 0.9, 1.1, 1.0, 1.3, 1.2, 1.6, 1.3, 1.0],
    [0.42, -0.2, -0.6, -0.7, -0.9, -1.0, -1.2, -1.1, -1.4, -1.6, -1.8, -1.5, -1.2, -0.9, -0.7, -0.9, -1.1, -1.3, -1.2, -1.5, -1.7, -1.9, -2.0, -1.7, -1.2, -0.9, -1.0, -1.2, -1.4, -1.3, -1.5, -1.6, -1.8, -2.0, -2.2, -1.8, -1.3],
    [0.42, 0.1, 0.3, 0.6, 0.9, 0.8, 1.1, 1.3, 1.5, 1.8, 2.0, 1.9, 1.5, 1.2, 1.0, 1.1, 1.2, 1.4, 1.3, 1.5, 1.8, 2.1, 2.4, 2.2, 1.7, 1.3, 1.2, 1.4, 1.3, 1.6, 1.8, 2.0, 2.2, 2.5, 2.6, 2.1, 1.5],
    [0.42, -0.3, -0.6, -0.9, -1.1, -1.0, -0.9, -1.0, -1.2, -1.4, -1.5, -1.3, -1.0, -0.8, -0.7, -0.8, -0.9, -1.1, -1.3, -1.2, -1.4, -1.6, -1.5, -1.2, -0.9, -0.7, -0.8, -1.0, -1.3, -1.5, -1.4, -1.6, -1.5, -1.8, -2.0, -1.7, -1.2],
    [0.42, 0.2, 0.1, 0.3, 0.2, 0.4, 0.6, 0.5, 0.8, 1.0, 0.9, 1.2, 1.0, 0.7, 0.5, 0.6, 0.9, 1.1, 1.3, 1.6, 1.4, 1.6, 1.9, 1.5, 1.2, 0.9, 0.8, 1.0, 1.2, 1.1, 1.3, 1.4, 1.6, 1.8, 1.7, 1.4, 1.1],
    [0.42, -0.4, -0.8, -1.0, -1.2, -1.3, -1.4, -1.2, -1.5, -1.8, -2.1, -1.8, -1.5, -1.1, -0.9, -1.2, -1.3, -1.6, -1.8, -1.9, -2.1, -2.3, -1.9, -1.6, -1.4, -1.1, -1.3, -1.6, -1.8, -1.9, -2.0, -1.8, -2.0, -2.2, -2.4, -2.0, -1.5],
    [0.42, 0.0, -0.2, 0.1, 0.0, -0.2, 0.1, 0.3, 0.2, 0.0, 0.3, 0.5, 0.3, 0.1, -0.1, 0.0, 0.2, 0.1, 0.3, 0.4, 0.2, 0.5, 0.6, 0.3, 0.1, 0.0, 0.2, 0.4, 0.2, 0.3, 0.6, 0.5, 0.4, 0.7, 0.8, 0.5, 0.2],
    [0.42, -0.2, -0.3, -0.2, -0.3, -0.5, -0.4, -0.3, -0.6, -0.5, -0.7, -0.5, -0.3, -0.4, -0.2, -0.3, -0.5, -0.3, -0.6, -0.4, -0.6, -0.8, -0.6, -0.5, -0.3, -0.2, -0.4, -0.5, -0.3, -0.5, -0.6, -0.4, -0.7, -0.8, -0.7, -0.5, -0.3],
    [0.42, 0.4, 0.8, 1.1, 1.3, 1.2, 1.4, 1.7, 2.1, 2.4, 2.3, 2.7, 2.5, 1.9, 1.4, 1.6, 1.9, 2.2, 2.0, 2.3, 2.6, 2.8, 3.1, 2.9, 2.3, 1.8, 1.6, 1.9, 2.2, 2.3, 2.4, 2.6, 2.7, 2.9, 2.7, 2.2, 1.7],
    [0.42, -0.5, -1.0, -1.3, -1.2, -1.1, -1.3, -1.4, -1.6, -1.9, -2.2, -2.0, -1.6, -1.2, -1.0, -1.2, -1.5, -1.7, -1.8, -2.1, -2.3, -2.2, -2.3, -1.9, -1.4, -1.1, -1.4, -1.7, -1.9, -1.8, -1.7, -2.0, -2.1, -2.4, -2.5, -1.9, -1.4],
]

# ---------------- (b) 2004-2007, T_C ----------------
OBS_TC_B = [0.42, 0.34, 0.11, 0.23, 0.31, 0.31, 0.49, 0.58, 0.71, 0.77,
            0.74, 0.78, 0.84, 0.6, 0.45, 0.34, 0.28, 0.26, 0.12, 0.12,
            0.11, 0.09, -0.06, -0.26, -0.52, -0.65, -0.45, -0.23, 0.05, 0.18,
            0.23, 0.45, 0.56, 0.67, 0.78, 0.82, 0.56]
MEAN_TC_B = [0.42, 0.05, -0.02, -0.01, 0.01, 0.05, 0.09, 0.14, 0.18, 0.22,
             0.23, 0.22, 0.18, 0.14, 0.12, 0.12, 0.12, 0.15, 0.18, 0.22,
             0.26, 0.27, 0.25, 0.2, 0.15, 0.11, 0.09, 0.09, 0.09, 0.11,
             0.14, 0.16, 0.16, 0.16, 0.14, 0.11, 0.05]
ENS_TC_B = [
    [0.42, 0.5, 0.9, 0.8, 0.85, 1.0, 1.1, 1.88, 1.6, 1.5, 1.7, 2.15, 1.6, 1.2, 0.9, 0.8, 0.7, 0.9, 1.0, 1.2, 1.5, 1.8, 1.6, 1.4, 1.1, 0.9, 0.8, 1.0, 0.9, 1.0, 1.2, 1.5, 1.8, 2.15, 1.6, 1.3, 1.2],
    [0.42, 0.3, 0.6, 0.7, 0.6, 0.8, 1.0, 1.2, 1.85, 1.6, 1.4, 1.6, 1.3, 1.4, 1.1, 1.0, 1.1, 1.25, 1.1, 1.4, 1.85, 1.7, 1.5, 1.65, 1.3, 1.0, 1.0, 1.3, 1.0, 1.1, 1.4, 1.75, 2.0, 1.8, 1.5, 1.25, 1.1],
    [0.42, 0.2, 0.4, 0.5, 0.6, 0.5, 0.7, 0.8, 1.0, 1.2, 1.3, 1.5, 1.2, 0.9, 0.7, 0.6, 0.8, 0.7, 0.9, 1.1, 1.3, 1.5, 1.4, 1.2, 0.9, 0.7, 0.6, 0.8, 0.7, 0.9, 1.1, 1.3, 1.6, 1.7, 1.4, 1.1, 0.9],
    [0.42, 0.1, 0.3, 0.4, 0.3, 0.5, 0.6, 0.7, 0.9, 1.0, 1.1, 1.2, 1.0, 0.8, 0.6, 0.5, 0.6, 0.7, 0.8, 1.0, 1.1, 1.3, 1.2, 1.0, 0.8, 0.6, 0.5, 0.6, 0.5, 0.7, 0.9, 1.1, 1.3, 1.4, 1.2, 1.0, 0.8],
    [0.42, 0.0, 0.1, 0.2, 0.4, 0.3, 0.4, 0.6, 0.7, 0.8, 0.9, 1.0, 0.8, 0.6, 0.4, 0.5, 0.4, 0.5, 0.7, 0.8, 0.9, 1.0, 1.1, 0.9, 0.6, 0.5, 0.4, 0.5, 0.6, 0.5, 0.7, 0.9, 1.1, 1.2, 1.0, 0.8, 0.6],
    [0.42, 0.0, -0.1, 0.1, 0.0, 0.2, 0.1, 0.3, 0.2, 0.4, 0.5, 0.3, 0.4, 0.2, 0.1, 0.2, 0.0, 0.2, 0.3, 0.1, 0.4, 0.5, 0.3, 0.4, 0.2, 0.1, 0.2, 0.0, 0.1, 0.3, 0.2, 0.4, 0.5, 0.3, 0.4, 0.2, 0.1],
    [0.42, -0.1, -0.2, 0.0, -0.1, 0.1, 0.0, -0.1, 0.1, 0.0, -0.2, 0.1, 0.0, -0.1, 0.1, 0.0, 0.2, 0.1, -0.1, 0.0, 0.2, 0.1, -0.1, 0.0, 0.1, -0.1, 0.0, 0.2, 0.1, 0.0, -0.1, 0.1, 0.0, 0.2, 0.1, 0.0, -0.1],
    [0.42, -0.2, -0.4, -0.3, -0.2, -0.3, -0.2, -0.4, -0.3, -0.5, -0.4, -0.3, -0.2, -0.3, -0.1, -0.2, -0.3, -0.2, -0.4, -0.3, -0.5, -0.4, -0.3, -0.2, -0.1, -0.3, -0.2, -0.1, -0.3, -0.4, -0.2, -0.3, -0.5, -0.4, -0.3, -0.2, -0.3],
    [0.42, -0.3, -0.6, -0.5, -0.6, -0.4, -0.5, -0.6, -0.8, -0.9, -1.0, -1.1, -0.9, -0.7, -0.5, -0.4, -0.5, -0.6, -0.8, -0.9, -1.0, -1.1, -1.2, -1.0, -0.8, -0.6, -0.5, -0.6, -0.7, -0.8, -0.9, -1.0, -1.2, -1.3, -1.2, -1.0, -0.8],
    [0.42, -0.4, -0.8, -0.9, -0.8, -0.7, -0.8, -0.9, -1.0, -1.2, -1.3, -1.2, -1.0, -0.8, -0.6, -0.5, -0.7, -0.9, -1.1, -1.3, -1.4, -1.3, -1.2, -1.1, -0.9, -0.7, -0.8, -1.0, -1.1, -1.3, -1.4, -1.6, -1.8, -1.9, -1.7, -1.5, -1.4],
    [0.42, -0.5, -1.0, -1.0, -1.08, -0.95, -1.0, -0.95, -1.1, -1.2, -1.35, -1.35, -1.1, -1.35, -1.3, -1.0, -1.25, -1.3, -1.5, -1.6, -1.7, -1.65, -1.6, -1.55, -1.4, -1.2, -1.35, -1.45, -1.4, -1.5, -1.6, -1.9, -2.1, -2.25, -2.1, -1.95, -1.85],
    [0.42, -0.4, -0.9, -0.8, -1.0, -0.9, -0.8, -0.7, -0.9, -1.0, -1.2, -1.3, -1.0, -0.9, -1.2, -0.8, -1.0, -1.2, -1.4, -1.5, -1.4, -1.6, -1.5, -1.3, -1.1, -1.0, -1.2, -1.3, -1.2, -1.4, -1.5, -1.7, -1.9, -2.0, -1.8, -1.6, -1.5],
    [0.42, -0.3, -0.7, -0.9, -0.7, -0.6, -0.7, -0.8, -0.7, -0.9, -1.1, -1.0, -0.8, -0.7, -0.5, -0.6, -0.8, -1.0, -1.2, -1.3, -1.5, -1.4, -1.3, -1.2, -1.0, -0.8, -0.9, -1.1, -1.3, -1.2, -1.3, -1.4, -1.5, -1.6, -1.5, -1.4, -1.3],
    [0.42, -0.2, -0.5, -0.4, -0.5, -0.6, -0.5, -0.6, -0.7, -0.8, -0.9, -0.8, -0.6, -0.5, -0.4, -0.5, -0.6, -0.7, -0.9, -1.0, -1.2, -1.3, -1.1, -0.9, -0.7, -0.6, -0.7, -0.9, -1.0, -0.9, -1.0, -1.2, -1.3, -1.5, -1.4, -1.2, -1.0],
    [0.42, 0.2, 0.5, 0.6, 0.7, 0.9, 0.8, 1.1, 1.4, 1.5, 1.3, 1.6, 1.4, 1.1, 0.8, 0.7, 0.9, 1.1, 1.2, 1.3, 1.6, 1.5, 1.3, 1.5, 1.2, 0.9, 0.8, 1.0, 0.8, 1.0, 1.3, 1.6, 1.7, 1.9, 1.4, 1.2, 1.0],
    [0.42, 0.3, 0.5, 0.4, 0.5, 0.6, 0.8, 0.9, 1.2, 1.3, 1.5, 1.4, 1.1, 0.9, 0.7, 0.6, 0.5, 0.7, 0.9, 1.0, 1.2, 1.4, 1.3, 1.1, 0.8, 0.7, 0.6, 0.7, 0.8, 0.7, 1.0, 1.2, 1.4, 1.5, 1.3, 1.0, 0.9],
    [0.42, 0.1, 0.0, 0.1, 0.2, 0.3, 0.2, 0.4, 0.5, 0.6, 0.7, 0.6, 0.5, 0.3, 0.2, 0.3, 0.2, 0.4, 0.5, 0.6, 0.7, 0.8, 0.7, 0.6, 0.4, 0.3, 0.2, 0.3, 0.4, 0.3, 0.5, 0.6, 0.8, 0.9, 0.8, 0.6, 0.4],
    [0.42, -0.1, -0.3, -0.2, -0.4, -0.3, -0.4, -0.3, -0.5, -0.6, -0.7, -0.6, -0.4, -0.3, -0.2, -0.3, -0.4, -0.5, -0.6, -0.5, -0.7, -0.8, -0.9, -0.7, -0.5, -0.4, -0.3, -0.4, -0.6, -0.7, -0.6, -0.8, -0.9, -1.0, -0.9, -0.7, -0.6],
    [0.42, 0.0, 0.2, 0.3, 0.1, 0.0, 0.2, 0.1, 0.3, 0.2, 0.4, 0.5, 0.3, 0.1, 0.0, 0.1, 0.3, 0.2, 0.0, 0.2, 0.3, 0.4, 0.6, 0.5, 0.3, 0.1, 0.0, 0.2, 0.3, 0.1, 0.0, 0.2, 0.4, 0.5, 0.3, 0.2, 0.1],
    [0.42, -0.3, -0.6, -0.7, -0.9, -1.0, -0.9, -0.8, -1.0, -1.1, -1.2, -1.1, -0.9, -1.2, -1.0, -0.9, -1.1, -1.2, -1.3, -1.4, -1.6, -1.5, -1.4, -1.5, -1.3, -1.1, -1.3, -1.4, -1.3, -1.5, -1.6, -1.8, -1.7, -1.9, -2.0, -1.8, -1.6],
    [0.42, 0.4, 0.7, 0.9, 0.8, 0.7, 0.9, 1.3, 1.5, 1.4, 1.6, 1.8, 1.5, 1.2, 1.0, 0.9, 1.0, 1.1, 1.3, 1.5, 1.7, 1.6, 1.4, 1.3, 1.0, 0.8, 0.9, 1.1, 1.0, 0.9, 1.1, 1.4, 1.6, 1.8, 1.7, 1.4, 1.2],
    [0.42, -0.3, -0.7, -0.8, -0.9, -1.0, -0.9, -1.0, -1.1, -1.2, -1.3, -1.25, -1.0, -1.1, -1.2, -0.9, -1.1, -1.25, -1.4, -1.5, -1.6, -1.5, -1.55, -1.4, -1.2, -1.0, -1.1, -1.3, -1.35, -1.45, -1.55, -1.7, -1.9, -2.1, -1.9, -1.7, -1.6],
    [0.42, 0.2, 0.5, 0.7, 0.8, 0.9, 1.1, 1.0, 1.2, 1.4, 1.5, 1.3, 1.1, 1.0, 0.8, 0.9, 1.0, 1.2, 1.15, 1.3, 1.5, 1.7, 1.5, 1.6, 1.2, 1.0, 0.9, 1.2, 0.9, 1.0, 1.2, 1.4, 1.7, 2.0, 1.5, 1.3, 1.1],
    [0.42, -0.2, -0.6, -0.7, -0.8, -0.9, -0.85, -0.7, -0.8, -1.0, -1.1, -1.2, -1.05, -0.85, -0.7, -0.8, -0.9, -1.1, -1.2, -1.4, -1.5, -1.4, -1.35, -1.2, -1.0, -0.9, -1.0, -1.2, -1.1, -1.3, -1.4, -1.5, -1.6, -1.8, -1.6, -1.5, -1.4],
    [0.42, 0.1, 0.2, 0.4, 0.5, 0.4, 0.5, 0.6, 0.8, 0.9, 1.0, 1.1, 0.9, 0.7, 0.5, 0.4, 0.5, 0.6, 0.8, 0.9, 1.0, 1.2, 1.0, 0.8, 0.6, 0.4, 0.5, 0.7, 0.6, 0.8, 0.9, 1.0, 1.2, 1.3, 1.1, 0.9, 0.7],
    [0.42, -0.1, -0.4, -0.5, -0.6, -0.5, -0.6, -0.7, -0.8, -0.9, -1.0, -0.9, -0.7, -0.6, -0.5, -0.6, -0.7, -0.8, -1.0, -1.1, -1.1, -1.2, -1.0, -0.8, -0.6, -0.5, -0.6, -0.8, -0.9, -1.0, -1.1, -1.3, -1.4, -1.5, -1.3, -1.1, -0.9],
    [0.42, 0.0, 0.1, 0.0, 0.2, 0.1, 0.3, 0.2, 0.4, 0.3, 0.2, 0.4, 0.2, 0.0, 0.1, 0.2, 0.1, 0.3, 0.2, 0.4, 0.3, 0.2, 0.4, 0.3, 0.1, 0.2, 0.0, 0.1, 0.2, 0.3, 0.1, 0.3, 0.2, 0.4, 0.5, 0.3, 0.2],
    [0.42, -0.2, -0.2, -0.1, -0.3, -0.2, -0.1, -0.3, -0.2, -0.4, -0.3, -0.5, -0.4, -0.2, -0.3, -0.1, -0.2, -0.4, -0.3, -0.5, -0.4, -0.6, -0.5, -0.3, -0.2, -0.4, -0.3, -0.2, -0.4, -0.3, -0.5, -0.6, -0.4, -0.6, -0.7, -0.5, -0.4],
]

TITLES = ["(a) Predicting the 1998-2001 multi-year La Nina",
          "(b) Predicting the 2004-2005 isolated CP El Nino"]
START_YEARS = [1998, 2004]

PANELS = [
    dict(row=0, col=0, obs=OBS_TE_A, mean=MEAN_TE_A, ens=ENS_TE_A, sd2=SD2_TE,
         yrange=[-4, 4], yticks=[-4, -2, 0, 2, 4], ylabel=True),
    dict(row=0, col=1, obs=OBS_TE_B, mean=MEAN_TE_B, ens=ENS_TE_B, sd2=SD2_TE,
         yrange=[-4, 4], yticks=[-4, -2, 0, 2, 4], ylabel=True),
    dict(row=1, col=0, obs=OBS_TC_A, mean=MEAN_TC_A, ens=ENS_TC_A, sd2=SD2_TC,
         yrange=[-2.5, 2.5], yticks=[-2, -1, 0, 1, 2], ylabel=False),
    dict(row=1, col=1, obs=OBS_TC_B, mean=MEAN_TC_B, ens=ENS_TC_B, sd2=SD2_TC,
         yrange=[-2.5, 2.5], yticks=[-2, -1, 0, 1, 2], ylabel=False),
]

for p in PANELS:
    for series in [p["obs"], p["mean"]] + p["ens"]:
        assert len(series) == N, len(series)


def px_x(x):
    return x / W


def px_y(y):
    return 1 - y / H


DOM_X = [[px_x(126), px_x(588)], [px_x(660), px_x(1122)]]
DOM_Y = [[px_y(255), px_y(31)], [px_y(537), px_y(312)]]

BLUE = "#0000ff"
GREEN = "#00e000"
MAGENTA_FILL = "rgba(255,0,255,0.5)"
RED_FILL = "rgba(255,0,0,0.5)"

fig = go.Figure()
layout = dict(
    width=W, height=H, margin=dict(l=0, r=0, t=0, b=0),
    paper_bgcolor="white", plot_bgcolor="white", showlegend=False,
    font=dict(family=FONT, color=TXT_GRAY),
)

axis_common = dict(
    showline=True, linecolor=AX_GRAY, linewidth=1, mirror="ticks",
    ticks="inside", ticklen=5, tickwidth=1, tickcolor=AX_GRAY,
    showgrid=False, zeroline=False, automargin=False,
    tickfont=dict(family=FONT, size=13, color=TXT_GRAY),
)

for i, p in enumerate(PANELS):
    n = i + 1
    xa = "x" if n == 1 else f"x{n}"
    ya = "y" if n == 1 else f"y{n}"
    start = START_YEARS[p["col"]]
    t = [start + k / 12 for k in range(1, N + 1)]
    sd2 = [p["sd2"][k % 12] for k in range(1, N + 1)]
    sd1 = [s / 2 for s in sd2]

    # ensemble members in one trace, separated by gaps
    ex, ey = [], []
    for member in p["ens"]:
        ex += t + [None]
        ey += member + [None]
    fig.add_trace(go.Scatter(x=ex, y=ey, mode="lines", xaxis=xa, yaxis=ya,
                             line=dict(color=BLUE, width=1.2), hoverinfo="skip"))

    # climatological spread envelopes drawn over the members
    for spread, col in [(sd2, MAGENTA_FILL), (sd1, RED_FILL)]:
        fig.add_trace(go.Scatter(
            x=t + t[::-1], y=spread + [-s for s in spread[::-1]],
            fill="toself", fillcolor=col, mode="lines", line=dict(width=0),
            xaxis=xa, yaxis=ya, hoverinfo="skip"))

    fig.add_trace(go.Scatter(x=t, y=p["mean"], mode="lines", xaxis=xa, yaxis=ya,
                             line=dict(color=GREEN, width=2.2)))
    fig.add_trace(go.Scatter(x=t, y=p["obs"], mode="lines", xaxis=xa, yaxis=ya,
                             line=dict(color="black", width=2.2)))

    xt = [start + 0.5 * j for j in range(7)]
    layout["xaxis" if n == 1 else f"xaxis{n}"] = dict(
        axis_common, domain=DOM_X[p["col"]], anchor=ya, ticklabelstandoff=3,
        range=[start, start + N / 12], tickvals=xt, ticktext=[f"{v:g}" for v in xt],
        title=dict(text="Year", font=dict(family=FONT, size=14, color=TXT_GRAY), standoff=4),
    )
    ydict = dict(
        axis_common, domain=DOM_Y[p["row"]], anchor=xa, ticklabelstandoff=4,
        range=p["yrange"], tickvals=p["yticks"], ticktext=[f"{v:g}" for v in p["yticks"]],
    )
    if p["ylabel"]:
        ydict["title"] = dict(text="<sup>o</sup>C", font=dict(family=FONT, size=15, color=TXT_GRAY),
                              standoff=4)
    layout["yaxis" if n == 1 else f"yaxis{n}"] = ydict

annotations = []
shapes = []

# panel titles
for c in range(2):
    annotations.append(dict(
        text=f"<b>{TITLES[c]}</b>", x=sum(DOM_X[c]) / 2, y=px_y(18),
        xref="paper", yref="paper", xanchor="center", yanchor="middle",
        showarrow=False, font=dict(family=FONT, size=17, color="black")))

# row labels
for big, sub, yb, ys in [("T", "E", 126, 141), ("T", "C", 413, 428)]:
    annotations.append(dict(text=f"<b>{big}</b>", x=px_x(20), y=px_y(yb), xref="paper", yref="paper",
                            xanchor="center", yanchor="middle", showarrow=False,
                            font=dict(family=FONT, size=25, color="black")))
    annotations.append(dict(text=f"<b>{sub}</b>", x=px_x(34), y=px_y(ys), xref="paper", yref="paper",
                            xanchor="center", yanchor="middle", showarrow=False,
                            font=dict(family=FONT, size=18, color="black")))

# legend inside panel (a)
for x0, x1, col, label, tx in [(130, 162, BLUE, "Ensembles", 165),
                               (229, 262, GREEN, "Ensemble mean", 264),
                               (355, 388, "black", "Obs", 389)]:
    shapes.append(dict(type="line", xref="paper", yref="paper",
                       x0=px_x(x0), x1=px_x(x1), y0=px_y(42), y1=px_y(42),
                       line=dict(color=col, width=1.2 if col == BLUE else 2.2)))
    annotations.append(dict(text=label, x=px_x(tx), y=px_y(42), xref="paper", yref="paper",
                            xanchor="left", yanchor="middle", showarrow=False,
                            font=dict(family=FONT, size=11.5, color="#222222")))
for y0, y1, col, label in [(35, 47, "#ff0000", "One Clim. Std. Dev."),
                           (50, 62, "#ff00ff", "Two Clim. Std. Dev.")]:
    shapes.append(dict(type="rect", xref="paper", yref="paper",
                       x0=px_x(423), x1=px_x(440), y0=px_y(y1), y1=px_y(y0),
                       fillcolor=col, line=dict(width=0)))
    annotations.append(dict(text=label, x=px_x(448), y=px_y((y0 + y1) / 2), xref="paper", yref="paper",
                            xanchor="left", yanchor="middle", showarrow=False,
                            font=dict(family=FONT, size=10.5, color="#222222")))

layout["annotations"] = annotations
layout["shapes"] = shapes
fig.update_layout(**layout)
fig.write_html("out.html")
